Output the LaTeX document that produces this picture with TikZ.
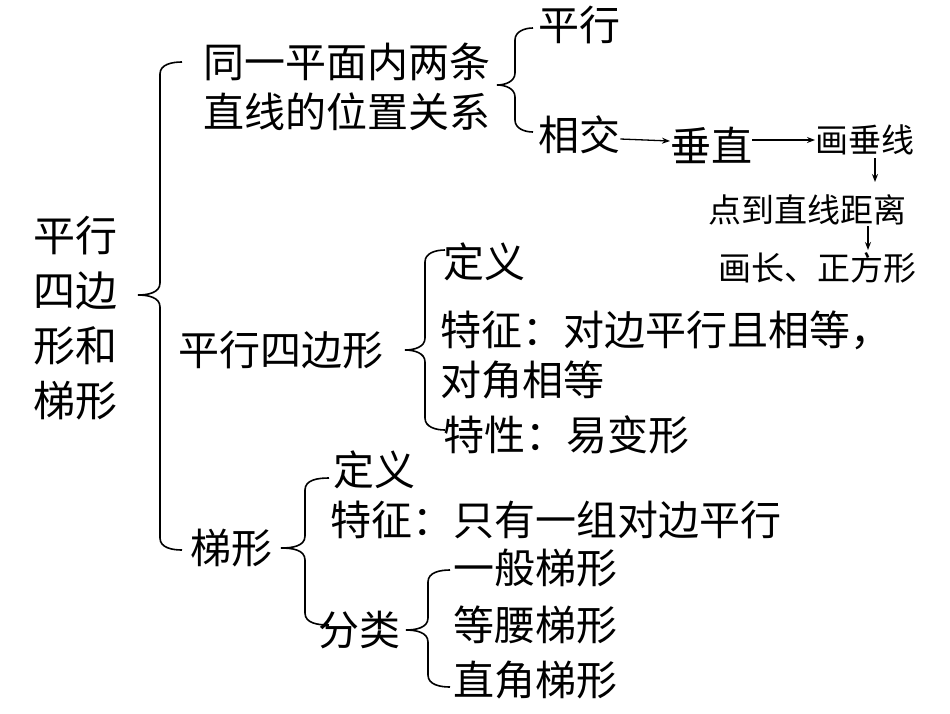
\documentclass[tikz,border=0pt]{standalone}
\usepackage{fontspec}
\newfontfamily\cjk{Noto Sans CJK SC}
\usetikzlibrary{arrows.meta}
\newcommand\mybrace[5]{% spine x, top y, mid y, bottom y, arm
  \draw[br] (#1+#5,#2) to[out=180,in=90] (#1,#2+12) -- (#1,#3-12) to[out=-90,in=0] (#1-#5,#3)
    to[out=0,in=90] (#1,#3+12) -- (#1,#4-12) to[out=-90,in=180] (#1+#5,#4);}
\begin{document}
\begin{tikzpicture}[x=1pt,y=-1pt,
  t/.style={anchor=west,inner sep=0pt,font=\cjk\fontsize{41}{48}\selectfont},
  s/.style={anchor=west,inner sep=0pt,font=\cjk\fontsize{33}{40}\selectfont},
  br/.style={line width=1.6pt},
  ar/.style={line width=1.3pt,-{Stealth[length=8pt,width=6pt]}}]
\useasboundingbox[fill=white] (0,0) rectangle (950,713);
\node[inner sep=0pt,align=center,font=\cjk\fontsize{42}{55}\selectfont] (title) at (75,318) {平行\\四边\\形和\\梯形};
\mybrace{160}{62}{295}{550}{22}
\node[t] (a1) at (203,62) {同一平面内两条};
\node[t] (a2) at (203,112) {直线的位置关系};
\mybrace{515}{28}{85}{132}{18}
\node[t] (p) at (538,25) {平行};
\node[t] (x) at (538,135) {相交};
\node[t] (cz) at (670,145) {垂直};
\node[s] (hc) at (815,140) {画垂线};
\node[s] (dj) at (708,210) {点到直线距离};
\node[s] (hz) at (718,268) {画长、正方形};
\draw[ar] (x.east) ++(0,4) -- (cz.west|-0,141);
\draw[ar] (cz.east|-0,140) -- (hc.west|-0,140);
\draw[ar] (875,158) -- (875,182);
\draw[ar] (868,226) -- (868,250);
\node[t] (pb) at (178,350) {平行四边形};
\mybrace{425}{250}{350}{430}{20}
\node[t] (d1) at (443,262) {定义};
\node[t] (f1) at (440,330) {特征：对边平行且相等，};
\node[t] (f1b) at (440,380) {对角相等};
\node[t] (f2) at (443,435) {特性：易变形};
\node[t] (tx) at (190,548) {梯形};
\mybrace{305}{478}{548}{625}{24}
\node[t] (d2) at (333,470) {定义};
\node[t] (f3) at (330,520) {特征：只有一组对边平行};
\node[t] (fl) at (318,630) {分类};
\mybrace{428}{570}{630}{687}{22}
\node[t] (k1) at (453,568) {一般梯形};
\node[t] (k2) at (453,625) {等腰梯形};
\node[t] (k3) at (453,680) {直角梯形};
\end{tikzpicture}
\end{document}
